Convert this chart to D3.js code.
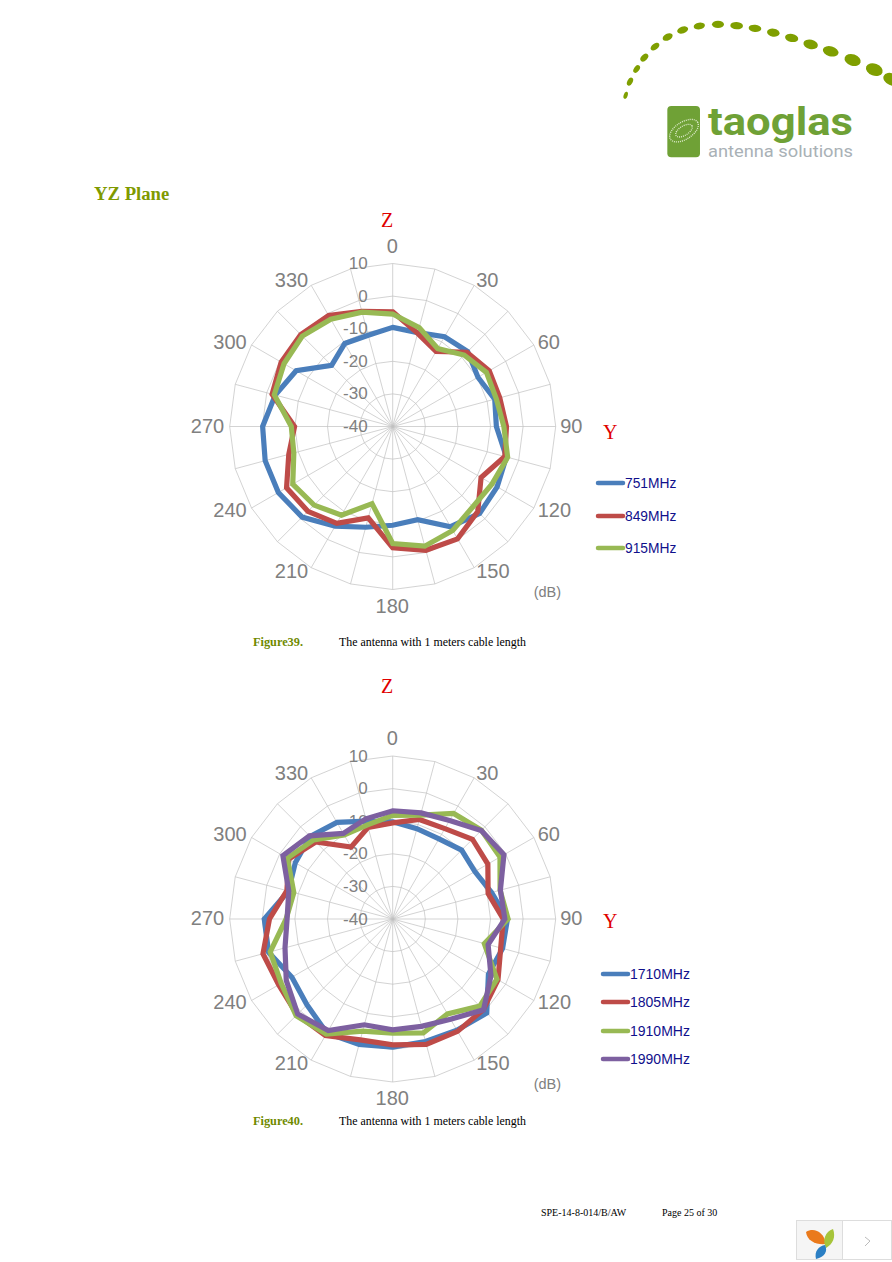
<!DOCTYPE html>
<html><head><meta charset="utf-8">
<script src="https://cdnjs.cloudflare.com/ajax/libs/d3/7.8.5/d3.min.js"></script>
<style>html,body{margin:0;padding:0;background:#fff}svg{display:block}</style>
</head><body><svg id="c" width="892" height="1262"></svg>
<script>
const angleLabels=[0,30,60,90,120,150,180,210,240,270,300,330];
const dbTicks=[-40,-30,-20,-10,0,10];
const spokeAngles=d3.range(0,360,15);

const names1=["751MHz","849MHz","915MHz"];
const s751=[-9.6,-10.2,-8.2,-7.5,-9.8,-7.6,-8.2,-3.9,-3,-2.3,-4.5,-10.4,-9.7,-8,-4.7,-0.7,0.5,0.5,-0.1,-2.7,-5.8,-13.5,-10.6,-11];
const s849=[-4.8,-10.4,-13.4,-7.8,-5.8,-6,-5.1,-4.4,-8.7,-3.1,-0.2,-0.7,-2.8,-11,-5.7,-3.2,-2.4,-7,-9.9,-1.7,-0.5,-0.1,-0.7,-3.4];
const s915=[-5.5,-8.6,-12.4,-9,-6.8,-7.1,-5.9,-3.5,-4.8,-5.2,-3.2,-2,-4.1,-15.5,-8.6,-5.9,-4.6,-8.6,-8.9,-2.4,-1.5,-0.8,-2,-3.7];

const names2=["1710MHz","1805MHz","1910MHz","1990MHz"];
const s1710=[-10.2,-11.3,-11.6,-10.1,-10.9,-8.6,-4.8,-5.1,-6.1,0.8,-0.6,-1.1,-0.7,-0.2,0.4,-2.8,-4.3,-0.6,-0.6,-6.9,-5.5,-4.2,-5.8,-8.9];
const s1805=[-10.5,-8.4,-8,-5.4,-6.3,-9.7,-6.1,-5.7,-2.7,-0.7,-0.2,-0.2,-1.4,-1.6,1.3,1.5,0.4,1.2,-2.2,-6.4,-3.2,-6.6,-14.5,-10.9];
const s1910=[-8.2,-7,-2.6,-1.5,-2,-5.9,-4.6,-10.9,-3.1,-2.2,-6.4,-3.8,-5,-4.4,0.8,1.9,-0.5,-1.1,-7.3,-8.6,-2.7,-5.7,-10.2,-10.1];
const s1990=[-6.8,-6.3,-5.1,-1.6,-0.6,-5.8,-5.6,-9.7,-5.2,-0.6,-4.5,-5.9,-6,-6.4,-0.5,1.2,-2.3,-5.8,-7.6,-7,-1.1,-3.9,-9.7,-8.2];

const colors1=["#4a7ebb","#be4b48","#98b954"];
const colors2=["#4a7ebb","#be4b48","#98b954","#7d60a0"];

const svg=d3.select("#c");
const sans="'Liberation Sans',Arial,sans-serif", serif="'Liberation Serif','Times New Roman',serif";
const rad=d3.scaleLinear().domain([-40,10]).range([0,163]);
const toRad=d=>d*Math.PI/180;

function polar(cy,series,colors){
  const cx=392.7;
  const g=svg.append("g").attr("transform",`translate(${cx},${cy})`);
  const ring=d3.lineRadial().angle(d=>toRad(d)).curve(d3.curveLinearClosed);
  dbTicks.slice(1).forEach(t=>{
    g.append("path").attr("d",ring.radius(rad(t))(spokeAngles)).attr("fill","none").attr("stroke","#c0c0c0").attr("stroke-width",0.7);
  });
  g.selectAll("line.s").data(spokeAngles).join("line").attr("class","s")
    .attr("x2",d=>rad(10)*Math.sin(toRad(d))).attr("y2",d=>-rad(10)*Math.cos(toRad(d)))
    .attr("stroke","#c0c0c0").attr("stroke-width",0.7);
  g.selectAll("text.db").data(dbTicks).join("text").attr("class","db")
    .attr("x",-25).attr("y",d=>-rad(d)+5.5).attr("text-anchor","end")
    .attr("font-family",sans).attr("font-size",17).attr("fill","#808080").text(d=>d);
  g.selectAll("text.a").data(angleLabels).join("text").attr("class","a")
    .attr("font-family",sans).attr("font-size",20).attr("fill","#808080").attr("text-anchor","middle")
    .text(d=>d)
    .each(function(d){
      const w=this.getComputedTextLength()/2, t=toRad(d), s=Math.sin(t), c=Math.cos(t);
      const vertical=Math.abs(s)<0.01;
      const x=168*s+(vertical?0:Math.sign(s)*w);
      const y=-168*c+(vertical?-Math.sign(c)*12:0);
      d3.select(this).attr("x",x-0.5).attr("y",y+6);
    });
  const line=d3.lineRadial().angle((d,i)=>toRad(spokeAngles[i])).radius(d=>rad(d)).curve(d3.curveLinearClosed);
  series.forEach((s,i)=>{
    g.append("path").attr("d",line(s)).attr("fill","none").attr("stroke",colors[i]).attr("stroke-width",5.2).attr("stroke-linejoin","miter");
  });
  g.append("text").attr("x",141).attr("y",170).attr("font-family",sans).attr("font-size",14.5).attr("fill","#808080").text("(dB)");
}
function legend(x,ys,names,colors,fs){
  names.forEach((n,i)=>{
    svg.append("line").attr("x1",x).attr("x2",x+25).attr("y1",ys[i]).attr("y2",ys[i]).attr("stroke",colors[i]).attr("stroke-width",4.5).attr("stroke-linecap","round");
    svg.append("text").attr("x",x+27).attr("y",ys[i]+5).attr("font-family",sans).attr("font-size",fs).attr("fill","#10108c").text(n);
  });
}
function txt(x,y,t,size,fill,fam,weight){
  return svg.append("text").attr("x",x).attr("y",y).attr("font-size",size).attr("fill",fill).attr("font-family",fam||serif).attr("font-weight",weight||"normal").text(t);
}

polar(426.5,[s751,s849,s915],colors1);
polar(919,[s1710,s1805,s1910,s1990],colors2);
legend(598,[483,516,548],names1,colors1,13.8);
legend(603,[974,1002,1031,1059],names2,colors2,14);

txt(94,200,"YZ Plane",18.7,"#7f9a00",serif,"bold");
txt(381,227,"Z",20,"#e00000");
txt(603,439,"Y",20,"#e00000");
txt(381,693,"Z",20,"#e00000");
txt(603,928,"Y",20,"#e00000");
txt(253,646,"Figure39.",12.3,"#6f8a00",serif,"bold");
txt(339,646,"The antenna with 1 meters cable length",11.9,"#000");
txt(253,1125,"Figure40.",12.3,"#6f8a00",serif,"bold");
txt(339,1125,"The antenna with 1 meters cable length",11.9,"#000");
txt(541,1216,"SPE-14-8-014/B/AW",10,"#000");
txt(662,1216,"Page 25 of 30",10,"#000");

/* logo */
const arcDots=[[47,256,6,11],[60,215,8,13],[80,177,8,13],[103,143,9,14],[135,110,9,15],[173,81,10,16],[218,60,10,17],[268,48,10,17],[324,43,11,18],[380,47,11,19],[435,55,11,19],[490,68,12,19],[545,84,12,20],[602,103,14,22],[662,124,15,24],[728,150,17,25],[793,179,18,26],[845,208,18,26]];
const logo=svg.append("g").attr("transform","translate(610,10) scale(0.3333)");
logo.selectAll("ellipse").data(arcDots).join("ellipse")
  .attr("cx",d=>d[0]).attr("cy",d=>d[1]).attr("ry",d=>d[2]).attr("rx",d=>d[3])
  .attr("transform",(d,i)=>`rotate(${i<9?-72+i*9:(i-8)*2.6} ${d[0]} ${d[1]})`)
  .attr("fill","#7f9f00");
logo.append("rect").attr("x",172).attr("y",288).attr("width",98).attr("height",154).attr("rx",12).attr("fill","#6fa136");
[[48,26],[28,14]].forEach(r=>{
  logo.append("ellipse").attr("cx",222).attr("cy",362).attr("rx",r[0]).attr("ry",r[1])
    .attr("transform","rotate(-32 222 362)").attr("fill","none").attr("stroke","#dfeccd").attr("stroke-width",4).attr("stroke-dasharray","3 3");
});
svg.append("text").attr("x",708).attr("y",135).attr("font-family","Roboto,sans-serif").attr("font-weight",700).attr("font-size",38)
  .attr("textLength",145).attr("lengthAdjust","spacingAndGlyphs").attr("fill","#6fa136").text("taoglas");
svg.append("text").attr("x",708).attr("y",157).attr("font-family","Roboto,sans-serif").attr("font-size",16)
  .attr("textLength",145).attr("lengthAdjust","spacingAndGlyphs").attr("fill","#a9b1b6").text("antenna solutions");

/* widget */
const w=svg.append("g").attr("transform","translate(780,1210)");
w.append("rect").attr("x",16.5).attr("y",10.5).attr("width",95).attr("height",39).attr("fill","#fff").attr("stroke","#ddd");
w.append("rect").attr("x",17).attr("y",11).attr("width",46).attr("height",38).attr("fill","#f5f5f5");
w.append("line").attr("x1",62.5).attr("x2",62.5).attr("y1",10).attr("y2",50).attr("stroke","#ddd");
w.append("path").attr("d","M26,22 C34,17 44,22 46,34 C36,35 27,31 26,22Z").attr("fill","#ea7a1c");
w.append("path").attr("d","M53,19 C56,27 53,34 46,38 C42,30 45,22 53,19Z").attr("fill","#a6c43a");
w.append("path").attr("d","M36,49 C34,41 39,36 45,35 C48,41 45,47 36,49Z").attr("fill","#2b7fc4");
w.append("path").attr("d","M85,27 L90,31 L85,36").attr("fill","none").attr("stroke","#bbb").attr("stroke-width",1);
</script></body></html>
